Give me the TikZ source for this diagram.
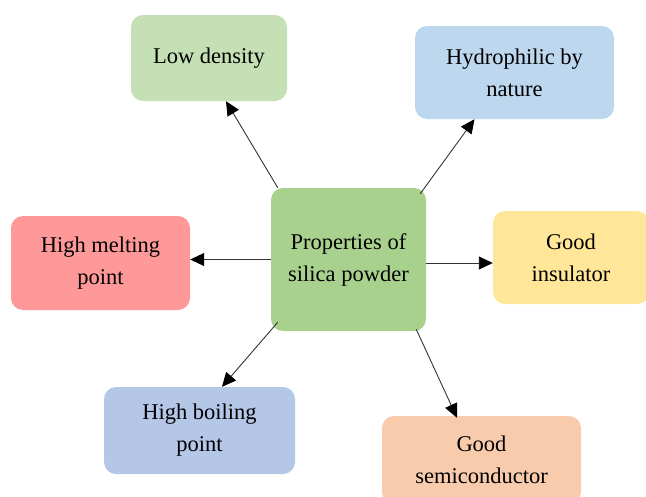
\documentclass[tikz,border=0pt]{standalone}
\usepackage{fontspec}
\setmainfont{Liberation Serif}
\usetikzlibrary{arrows.meta}
\definecolor{cLow}{HTML}{C5E0B4}
\definecolor{cHyd}{HTML}{BDD7EE}
\definecolor{cCen}{HTML}{A9D18E}
\definecolor{cIns}{HTML}{FFE699}
\definecolor{cMel}{HTML}{FF9999}
\definecolor{cBoi}{HTML}{B4C7E7}
\definecolor{cSem}{HTML}{F8CBAD}
\tikzset{
  prop/.style={rounded corners=12pt, inner sep=0pt, align=center,
    font=\fontsize{22.5}{32}\selectfont, text=black},
  arr/.style={-{Triangle[length=14pt,width=13pt,black]}, draw=black!80, line width=0.9pt},
}
\begin{document}
\begin{tikzpicture}[x=1pt,y=-1pt]
\useasboundingbox (0,0) rectangle (646,496);
\clip (0,0) rectangle (646,496);
\node[prop, fill=cLow, minimum width=156pt, minimum height=86pt] (ld) at (209,58) {Low density};
\node[prop, fill=cHyd, minimum width=199pt, minimum height=93pt] (hy) at (514.5,72.5) {Hydrophilic by\\nature};
\node[prop, fill=cCen, minimum width=155pt, minimum height=143pt] (c) at (348.5,259.5) {Properties of\\silica powder};
\node[prop, fill=cIns, minimum width=156pt, minimum height=93pt] (gi) at (571,257.5) {Good\\insulator};
\node[prop, fill=cMel, minimum width=179pt, minimum height=94pt] (hm) at (100.5,263) {High melting\\point};
\node[prop, fill=cBoi, minimum width=191pt, minimum height=87pt] (hb) at (199.5,430.5) {High boiling\\point};
\node[prop, fill=cSem, minimum width=199pt, minimum height=88pt] (gs) at (481.5,460) {Good\\semiconductor};
\draw[arr] ([xshift=7pt]c.north west) -- ([xshift=17pt]ld.south);
\draw[arr] ([xshift=-6pt,yshift=-6pt]c.north east) -- ([xshift=-40pt]hy.south);
\draw[arr] ([yshift=-3.5pt]c.east) -- ([yshift=-3.5pt]c.east -| gi.west);
\draw[arr] (c.west) -- (c.west -| hm.east);
\draw[arr] ([xshift=7pt,yshift=9pt]c.south west) -- ([xshift=22.5pt]hb.north);
\draw[arr] ([xshift=-10pt,yshift=2pt]c.south east) -- ([xshift=-24.5pt,yshift=-2pt]gs.north);
\end{tikzpicture}
\end{document}
